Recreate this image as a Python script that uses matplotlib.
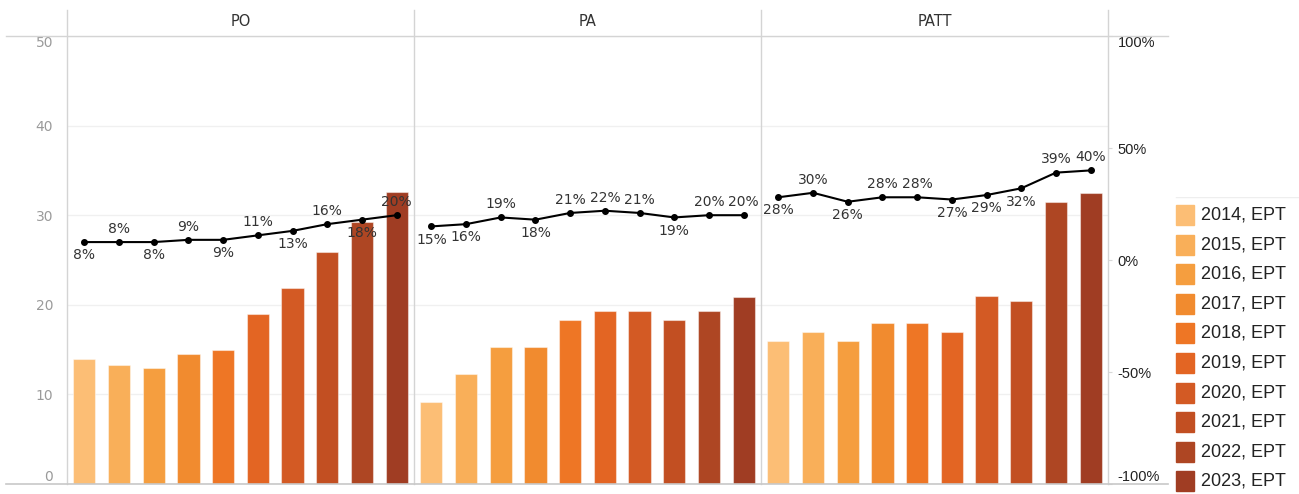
import numpy as np
import matplotlib
matplotlib.use("Agg")
import matplotlib.pyplot as plt
from matplotlib.lines import Line2D
from matplotlib.patches import Rectangle

plt.rcParams["font.family"] = ["DejaVu Sans"]

# data
panels = ["PO", "PA", "PATT"]
years = ["2014", "2015", "2016", "2017", "2018", "2019", "2020", "2021", "2022", "2023"]
legend_labels = [y + ", EPT" for y in years]

bars_po = [14.0, 13.3, 12.9, 14.5, 15.0, 19.0, 21.9, 25.9, 29.2, 32.6]
bars_pa = [9.2, 12.3, 15.3, 15.3, 18.3, 19.3, 19.3, 18.3, 19.3, 20.9]
bars_patt = [16.0, 17.0, 16.0, 18.0, 18.0, 17.0, 21.0, 20.4, 31.5, 32.5]

pct_po = [8, 8, 8, 9, 9, 11, 13, 16, 18, 20]
pct_pa = [15, 16, 19, 18, 21, 22, 21, 19, 20, 20]
pct_patt = [28, 30, 26, 28, 28, 27, 29, 32, 39, 40]

# label above (1) or below (-1) the point, as in the picture
side_po = [-1, 1, -1, 1, -1, 1, -1, 1, -1, 1]
side_pa = [-1, -1, 1, -1, 1, 1, 1, -1, 1, 1]
side_patt = [-1, 1, -1, 1, 1, -1, -1, -1, 1, 1]

colors = ["#FCBE75", "#F9AF59", "#F59E3F", "#F18B2F", "#EE7625",
          "#E36523", "#D35A24", "#C24F22", "#AE4623", "#A03D23"]

bar_vals = [bars_po, bars_pa, bars_patt]
pct_vals = [pct_po, pct_pa, pct_patt]
sides = [side_po, side_pa, side_patt]

W, H = 1299, 494
fig = plt.figure(figsize=(W / 100, H / 100), dpi=100)


def rect(x0, y0, x1, y1):
    return [x0 / W, 1 - y1 / H, (x1 - x0) / W, (y1 - y0) / H]


def hline(y, x0, x1, color, lw=1.0):
    fig.add_artist(Line2D([x0 / W, x1 / W], [1 - y / H, 1 - y / H],
                          color=color, lw=lw, transform=fig.transFigure))


def vline(x, y0, y1, color, lw=1.0):
    fig.add_artist(Line2D([x / W, x / W], [1 - y0 / H, 1 - y1 / H],
                          color=color, lw=lw, transform=fig.transFigure))


edges = [67, 414, 761, 1108]
top, bottom = 36, 484
x = np.arange(len(years))

for i, name in enumerate(panels):
    ax = fig.add_axes(rect(edges[i], top, edges[i + 1], bottom))
    ax.bar(x, bar_vals[i], width=0.64, color=colors,
           edgecolor=(1, 1, 1, 0.45), linewidth=0.8, zorder=2)
    ax.set_xlim(-0.5, 9.5)
    ax.set_ylim(0, 50)
    ax.set_yticks([0, 10, 20, 30, 40, 50])
    ax.yaxis.grid(True, color="#f0f0f0", lw=1, zorder=0)
    ax.set_axisbelow(True)
    ax.set_xticks([])
    for s in ax.spines.values():
        s.set_visible(False)
    if i == 0:
        ax.tick_params(axis="y", length=0, pad=10, labelsize=10, labelcolor="#9a9a9a")
        labs = ax.get_yticklabels()
        labs[0].set_va("bottom")
        labs[-1].set_va("top")
    else:
        ax.tick_params(axis="y", length=0, labelleft=False)

    ax2 = ax.twinx()
    ax2.set_ylim(-100, 100)
    ax2.plot(x, pct_vals[i], color="black", lw=1.5, marker="o", ms=4, zorder=3)
    for xi, v, sd in zip(x, pct_vals[i], sides[i]):
        ax2.annotate(f"{v}%", (xi, v), xytext=(0, 9.5 * sd), textcoords="offset points",
                     ha="center", va="center", fontsize=10, color="#333333")
    for s in ax2.spines.values():
        s.set_visible(False)
    if i == 2:
        ax2.set_yticks([-100, -50, 0, 50, 100])
        ax2.set_yticklabels(["-100%", "-50%", "0%", "50%", "100%"],
                            family="Liberation Sans", fontsize=10.5, color="#222222")
        ax2.tick_params(axis="y", length=3, color="#d8d8d8", pad=4)
        labs = ax2.get_yticklabels()
        labs[0].set_va("bottom")
        labs[-1].set_va("top")
    else:
        ax2.set_yticks([])

    fig.text((edges[i] + edges[i + 1]) / 2 / W, 1 - 21 / H, name,
             ha="center", va="center", fontsize=10.5, color="#333333")

# frame lines
for ex in edges:
    vline(ex, 10, bottom, "#d4d4d4")
hline(top, 6, 1168, "#d4d4d4")
hline(bottom, 6, 1168, "#c8c8c8", lw=1.2)

# legend
lax = fig.add_axes(rect(1160, 197, 1299, 494))
lax.set_xlim(1160, 1299)
lax.set_ylim(494, 197)
lax.axis("off")
lax.plot([1176, 1299], [197, 197], color="#eeeeee", lw=1)
for k, (lab, c) in enumerate(zip(legend_labels, colors)):
    yc = 215 + k * 29.6
    lax.add_patch(Rectangle((1176, yc - 10), 18, 20, color=c))
    lax.text(1201, yc, lab, va="center", ha="left", family="Liberation Sans",
             fontsize=13, color="#222222")

fig.savefig("out.png", dpi=100)
